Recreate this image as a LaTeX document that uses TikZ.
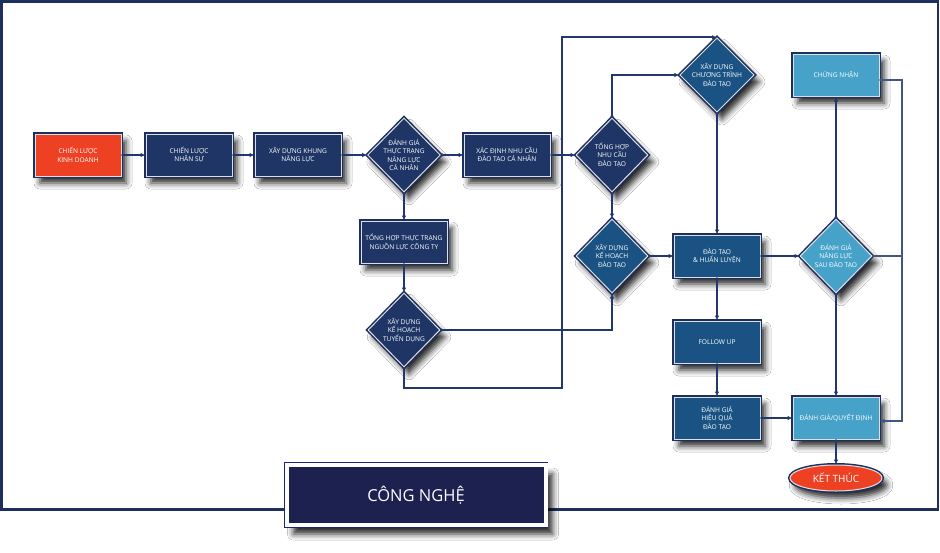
\documentclass[tikz,border=0pt]{standalone}
\usepackage{fontspec}
\newfontfamily\nf{Open Sans}
\usetikzlibrary{shapes.geometric,arrows.meta,shadows.blur}
\definecolor{navy}{HTML}{1D2F5E}
\definecolor{lnav}{HTML}{22386B}
\definecolor{darkf}{HTML}{1E3565}
\definecolor{medf}{HTML}{1A5383}
\definecolor{litf}{HTML}{47A2C9}
\definecolor{orng}{HTML}{EE4124}
\definecolor{cgf}{HTML}{1C2150}
\pgfdeclarelayer{bg}\pgfdeclarelayer{fg}\pgfsetlayers{bg,main,fg}
\tikzset{
  base/.style={blur shadow={shadow xshift=5pt,shadow yshift=-7pt,shadow blur radius=6pt,shadow opacity=85},
    preaction={draw=navy,line width=4pt}, draw=white!75!gray, line width=1pt,
    text=white, align=center, inner sep=0pt, font=\nf\fontsize{6.6}{8.5}\selectfont},
  box/.style={base, rectangle, minimum width=86pt, minimum height=42pt},
  dia/.style={base, diamond, minimum width=72pt, minimum height=74pt},
  conn/.style={draw=lnav, line width=1.8pt, {Circle[length=2.6pt]}-{Latex[length=5pt,width=4.6pt]}},
  thinconn/.style={line width=1.3pt, draw=lnav!85!white},
  lshadA/.style={draw=black!6, line width=9pt, transform canvas={xshift=4pt,yshift=-5pt}},
  lshadB/.style={draw=black!9, line width=4pt, transform canvas={xshift=4pt,yshift=-5pt}},
}
\newcommand\cn[2][]{%
  \begin{pgfonlayer}{bg}\draw[lshadA] #2;\draw[lshadB] #2;\end{pgfonlayer}%
  \begin{pgfonlayer}{fg}\draw[conn,#1] #2;\end{pgfonlayer}}
\begin{document}
\begin{tikzpicture}[x=1pt,y=-1pt]
\useasboundingbox (0,0) rectangle (940,552);
\fill[white] (0,0) rectangle (940,552);
\draw[navy, line width=2.5pt] (1.25,1.25) rectangle (938,509.5);

\node[box, fill=orng] (b1) at (78,155) {CHIẾN LƯỢC\\KINH DOANH};
\node[box, fill=darkf] (b2) at (189,155) {CHIẾN LƯỢC\\NHÂN SỰ};
\node[box, fill=darkf] (b3) at (298,155) {XÂY DỰNG KHUNG\\NĂNG LỰC};
\node[dia, fill=darkf] (d4) at (404,155) {ĐÁNH GIÁ\\THỰC TRẠNG\\NĂNG LỰC\\CÁ NHÂN};
\node[box, fill=darkf] (b5) at (507,155) {XÁC ĐỊNH NHU CẦU\\ĐÀO TẠO CÁ NHÂN};
\node[dia, fill=darkf] (d6) at (612,155) {TỔNG HỢP\\NHU CẦU\\ĐÀO TẠO};
\node[box, fill=darkf] (b7) at (404,242) {TỔNG HỢP THỰC TRẠNG\\NGUỒN LỰC CÔNG TY};
\node[dia, fill=darkf] (d8) at (404,330) {XÂY DỰNG\\KẾ HOẠCH\\TUYỂN DỤNG};
\node[dia, fill=medf] (d9) at (612,256) {XÂY DỰNG\\KẾ HOẠCH\\ĐÀO TẠO};
\node[dia, fill=medf] (d10) at (717,75) {XÂY DỰNG\\CHƯƠNG TRÌNH\\ĐÀO TẠO};
\node[box, fill=litf] (cn) at (836,75) {CHỨNG NHẬN};
\node[box, fill=medf] (b12) at (717,256) {ĐÀO TẠO\\\& HUẤN LUYỆN};
\node[dia, fill=litf] (d13) at (836,256) {ĐÁNH GIÁ\\NĂNG LỰC\\SAU ĐÀO TẠO};
\node[box, fill=medf] (b14) at (717,342) {FOLLOW UP};
\node[box, fill=medf] (b15) at (717,418) {ĐÁNH GIÁ\\HIỆU QUẢ\\ĐÀO TẠO};
\node[box, fill=litf] (dq) at (836,418) {ĐÁNH GIÁ/QUYẾT ĐỊNH};
\node[base, ellipse, fill=orng, minimum width=92pt, minimum height=26pt,
      font=\nf\fontsize{10}{12}\selectfont] (kt) at (836,478) {KẾT THÚC};
\node[blur shadow={shadow xshift=7pt,shadow yshift=-9pt,shadow blur radius=6pt,shadow opacity=85},
      preaction={draw=navy!80!blue,line width=5.5pt}, fill=cgf, draw=white, line width=4pt,
      minimum width=259pt, minimum height=60pt, inner sep=0pt, text=white,
      font=\nf\fontsize{16.5}{18}\selectfont] (cg) at (416,495) {CÔNG NGHỆ};

\coordinate (c1) at (562,388);
\coordinate (r1) at (902,80);
\coordinate (r2) at (902,421);

\cn{(b1) -- (b2)}
\cn{(b2) -- (b3)}
\cn{(b3) -- (d4)}
\cn{(d4) -- (b5)}
\cn{(b5) -- (d6)}
\cn{(d4) -- (b7)}
\cn{(b7) -- (d8)}
\cn{(d6) -- (d9)}
\cn{(d8.east) -| (d9.south)}
\cn{(d8.south) |- (c1) |- (d10.north)}
\cn{(d6.north) |- (d10.west)}
\cn{(d9) -- (b12)}
\cn{(d10) -- (b12)}
\cn{(b12) -- (d13)}
\cn{(d13) -- (cn)}
\cn{(d13) -- (dq)}
\cn{(b12) -- (b14)}
\cn{(b14) -- (b15)}
\cn{(b15) -- (dq)}
\cn{(dq) -- (kt)}
\cn[thinconn]{(cn.east |- r1) -- (r1) -- (r2) -- (dq.east |- r2)}
\cn[thinconn,-]{(d13.east) -- (d13.east -| r1)}
\end{tikzpicture}
\end{document}
